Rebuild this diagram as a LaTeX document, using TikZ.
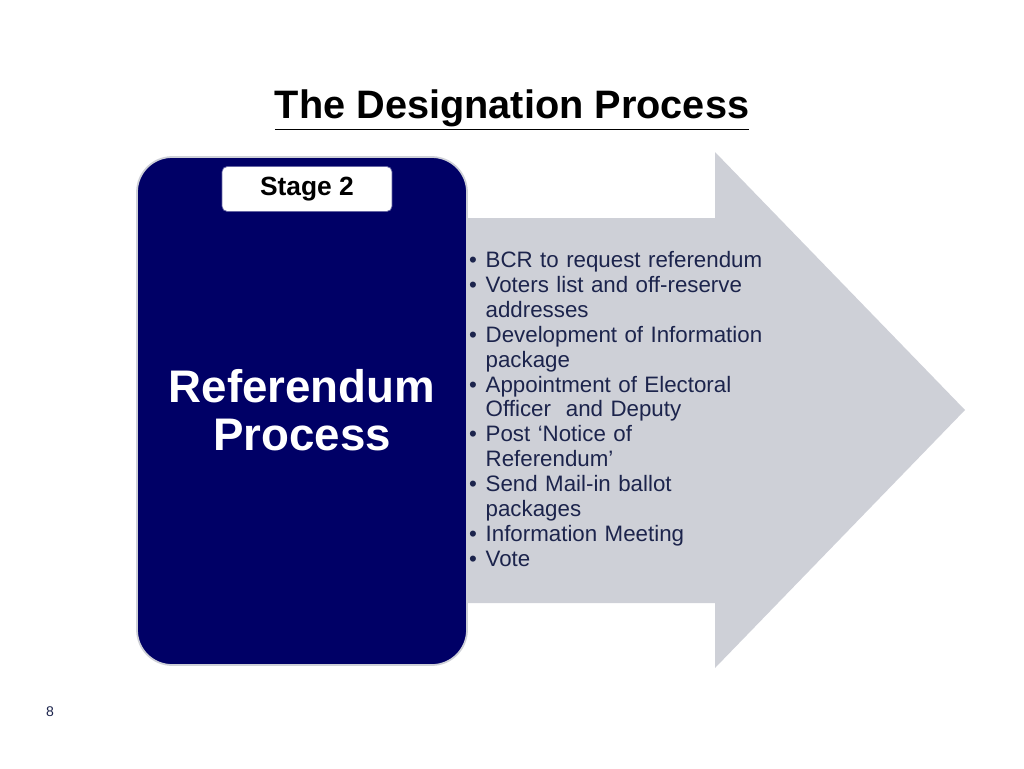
\documentclass[tikz,border=0pt]{standalone}
\usepackage{fontspec}
\setmainfont{Liberation Sans}
\usepackage{enumitem}
\definecolor{arrowGray}{RGB}{206,208,215}
\definecolor{stageBlue}{RGB}{0,0,102}
\definecolor{textBlue}{RGB}{28,36,76}
\tikzset{
  stagebox/.style={draw=arrowGray, line width=1pt, fill=stageBlue, rounded corners=20pt},
  labelbox/.style={draw=stageBlue!60, fill=white, rounded corners=3pt, minimum width=3.4cm, minimum height=0.9cm, font=\fontsize{15}{17}\selectfont\bfseries},
}
\begin{document}
\begin{tikzpicture}[x=0.02cm,y=-0.02cm]
  \useasboundingbox (0,0) rectangle (1024,768);
  % Title
  \node (title) at (512,110) {\fontsize{22.6}{26}\selectfont\bfseries\underline{The Designation Process}};
  % Arrow
  \fill[arrowGray] (460,218) -- (715,218) -- (715,152) -- (965,410) -- (715,668) -- (715,603) -- (460,603) -- cycle;
  % Stage block
  \draw[stagebox] (137,157) rectangle (467,665);
  \node[labelbox] (stage) at (307,189) {Stage 2};
  \node[text=white, align=center, font=\fontsize{26}{27}\selectfont\bfseries] (proc) at (302,410) {Referendum\\Process};
  % Steps
  \node[anchor=north west, text width=6.0cm, text=textBlue, font=\fontsize{12.7}{14.2}\selectfont, inner sep=0pt] (steps) at (466,242) {%
    \begin{itemize}[leftmargin=11pt, labelsep=5pt, itemsep=0pt, parsep=0pt, topsep=0pt]
      \item BCR to request referendum
      \item Voters list and off-reserve addresses
      \item Development of Information package
      \item Appointment of Electoral Officer\ \ and Deputy
      \item Post `Notice of Referendum'
      \item Send Mail-in ballot packages
      \item Information Meeting
      \item Vote
    \end{itemize}};
  % Page number
  \node[font=\fontsize{8}{10}\selectfont, text=textBlue] (page) at (50,712) {8};
\end{tikzpicture}
\end{document}
